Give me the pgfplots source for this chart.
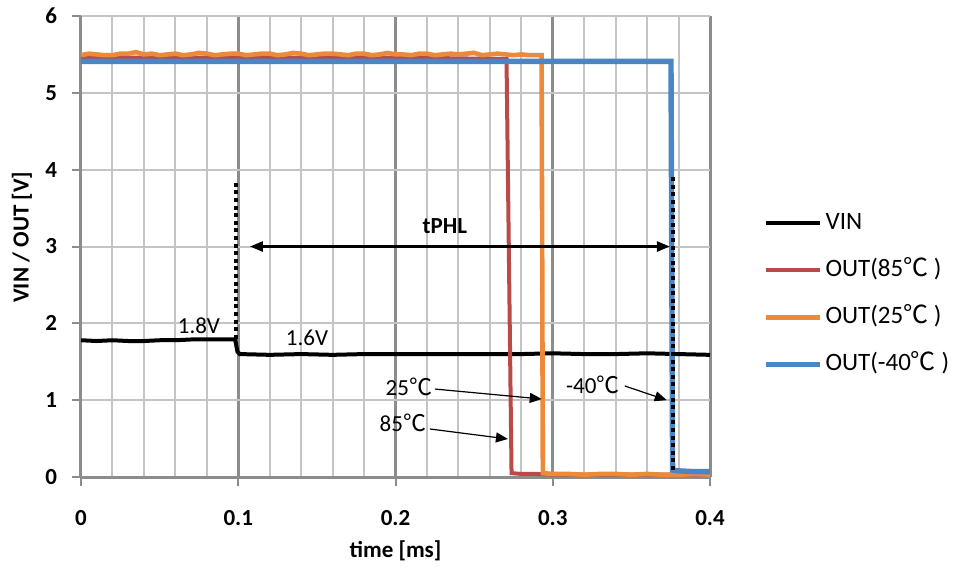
\documentclass[border=0pt]{standalone}
\usepackage{fontspec}
\setmainfont{Carlito}
\newfontfamily\cjk{Noto Sans CJK JP}
\newcommand{\dC}{{\cjk ℃}}
\usepackage{pgfplots}
\pgfplotsset{compat=1.18}
\usetikzlibrary{arrows.meta}
\definecolor{vred}{HTML}{B84A47}
\definecolor{vorange}{HTML}{EC8A3A}
\definecolor{vblue}{HTML}{4D84C4}
\definecolor{gmaj}{HTML}{8C8C8C}
\definecolor{gmin}{HTML}{C4C4C4}
\begin{document}
\begin{tikzpicture}
\begin{axis}[
  at={(0,0)}, anchor=south west,
  scale only axis, width=314.5pt, height=230.5pt,
  xmin=0, xmax=0.4, ymin=0, ymax=6,
  xtick={0,0.1,0.2,0.3,0.4},
  minor xtick={0.02,0.04,0.06,0.08,0.12,0.14,0.16,0.18,0.22,0.24,0.26,0.28,0.32,0.34,0.36,0.38},
  ytick={0,1,2,3,4,5,6},
  /pgf/number format/assume math mode=true,
  /pgf/number format/fixed,
  tick label style={font=\bfseries\fontsize{11.5}{13}\selectfont},
  xticklabel style={yshift=-8.5pt},
  yticklabel style={xshift=-4pt},
  xmajorgrids, xminorgrids, ymajorgrids,
  major x grid style={draw=gmaj, line width=1.5pt},
  minor x grid style={draw=gmin, line width=1pt},
  major y grid style={draw=gmin, line width=1pt},
  axis lines*=left,
  axis line style={draw=gmaj, line width=1.5pt},
  tick style={draw=gmaj, line width=1pt},
  tick align=outside,
  major tick length=4.5pt,
  minor tick length=0pt,
  xlabel={\bfseries time [ms]},
  ylabel={\bfseries VIN / OUT [V]},
  label style={font=\bfseries\fontsize{11.5}{13}\selectfont},
  xlabel style={at={(axis description cs:0.5,-0.1605)}, anchor=center},
  ylabel style={at={(axis description cs:-0.0938,0.52)}, anchor=center},
  legend style={at={(axis description cs:1.084,0.397)}, anchor=west,
    draw=none, fill=none, inner sep=0pt, row sep=8.5pt,
    font=\fontsize{12.5}{14}\selectfont,
    nodes={inner sep=1.5pt, text height=9pt, text depth=3pt}},
  legend cell align=left,
  legend image code/.code={\draw[#1] (0pt,0pt) -- (27pt,0pt);},
]
% VIN
\addplot[black, line width=2pt] coordinates {
 (0,1.78) (0.01,1.77) (0.02,1.78) (0.03,1.77) (0.04,1.77) (0.05,1.78) (0.06,1.78)
 (0.07,1.79) (0.08,1.79) (0.09,1.79) (0.098,1.79) (0.0985,1.74) (0.0995,1.63) (0.101,1.60)
 (0.12,1.59) (0.14,1.60) (0.16,1.59) (0.18,1.60) (0.2,1.60) (0.22,1.60) (0.24,1.60)
 (0.26,1.60) (0.28,1.60) (0.30,1.61) (0.32,1.60) (0.34,1.60) (0.36,1.61) (0.38,1.60) (0.4,1.59)};
\addlegendentry{VIN}
% OUT 85C
\addplot[vred, line width=2pt] coordinates {
 (0,5.46) (0.1,5.46) (0.2,5.46) (0.2706,5.44) (0.2738,0.05) (0.28,0.04) (0.29,0.04) (0.3,0.03) (0.4,0.03)};
\addlegendentry{OUT(85\dC\ )}
% OUT 25C
\addplot[vorange, line width=2.3pt] coordinates {
 (0,5.49) (0.005,5.51) (0.01,5.50) (0.015,5.49) (0.02,5.49) (0.025,5.51) (0.03,5.51) (0.035,5.53) (0.04,5.50) (0.045,5.51) (0.05,5.49) (0.055,5.50) (0.06,5.51)
 (0.065,5.49) (0.07,5.50) (0.075,5.52) (0.08,5.51) (0.085,5.49) (0.09,5.50) (0.095,5.51) (0.1,5.51) (0.105,5.49) (0.11,5.50) (0.115,5.51) (0.12,5.51) (0.125,5.49) (0.13,5.50)
 (0.135,5.52) (0.14,5.51) (0.145,5.49) (0.15,5.50) (0.155,5.51) (0.16,5.51) (0.165,5.50) (0.17,5.49) (0.175,5.51) (0.18,5.51) (0.185,5.49) (0.19,5.50) (0.195,5.52) (0.2,5.50)
 (0.205,5.50) (0.21,5.49) (0.215,5.51) (0.22,5.51) (0.225,5.49) (0.23,5.50) (0.235,5.51) (0.24,5.50) (0.245,5.51) (0.25,5.52) (0.255,5.49) (0.26,5.50) (0.265,5.51) (0.27,5.50)
 (0.275,5.49) (0.28,5.50) (0.285,5.49) (0.2929,5.49) (0.2937,0.05) (0.30,0.04) (0.31,0.04) (0.32,0.03) (0.33,0.04)
 (0.34,0.04) (0.35,0.03) (0.36,0.04) (0.37,0.03) (0.38,0.03) (0.39,0.04) (0.4,0.03)};
\addlegendentry{OUT(25\dC\ )}
% OUT -40C
\addplot[vblue, line width=2.7pt] coordinates {
 (0,5.41) (0.2,5.41) (0.3752,5.41) (0.3762,0.09) (0.38,0.08) (0.39,0.07) (0.4,0.07)};
\addlegendentry{OUT(-40\dC\ )}
% dotted markers
\draw[black, line width=2pt, dash pattern=on 2pt off 1.8pt]
  (axis cs:0.0985,1.80) -- (axis cs:0.0985,3.87);
\draw[black, line width=2pt, dash pattern=on 2pt off 1.8pt]
  (axis cs:0.3764,0.09) -- (axis cs:0.3764,3.93);
% tPHL arrow
\draw[black, line width=1.25pt, {Triangle[length=6.5pt,width=5pt]}-{Triangle[length=6.5pt,width=5pt]}]
  (axis cs:0.1074,3.0) -- (axis cs:0.3745,3.0);
\node[font=\bfseries\fontsize{11.5}{13}\selectfont] at (axis cs:0.2314,3.26) {tPHL};
% labels
\node[font=\fontsize{11.5}{13}\selectfont] at (axis cs:0.075,1.97) {1.8V};
\node[font=\fontsize{11.5}{13}\selectfont] at (axis cs:0.1437,1.81) {1.6V};
\node[font=\fontsize{11.5}{13}\selectfont] at (axis cs:0.2085,1.17) {25\dC};
\node[font=\fontsize{11.5}{13}\selectfont] at (axis cs:0.2047,0.70) {85\dC};
\node[font=\fontsize{11.5}{13}\selectfont] at (axis cs:0.3255,1.20) {-40\dC};
\draw[black, line width=0.6pt, -{Triangle[length=6pt,width=5pt]}] (axis cs:0.225,1.145) -- (axis cs:0.293,1.015);
\draw[black, line width=0.6pt, -{Triangle[length=6pt,width=5pt]}] (axis cs:0.2219,0.625) -- (axis cs:0.2715,0.495);
\draw[black, line width=0.6pt, -{Triangle[length=6pt,width=5pt]}] (axis cs:0.3458,1.185) -- (axis cs:0.3725,1.0);
\end{axis}
\pgfresetboundingbox
\path[use as bounding box] (-40.5pt,-46pt) rectangle (438pt,238.5pt);
\end{tikzpicture}
\end{document}
